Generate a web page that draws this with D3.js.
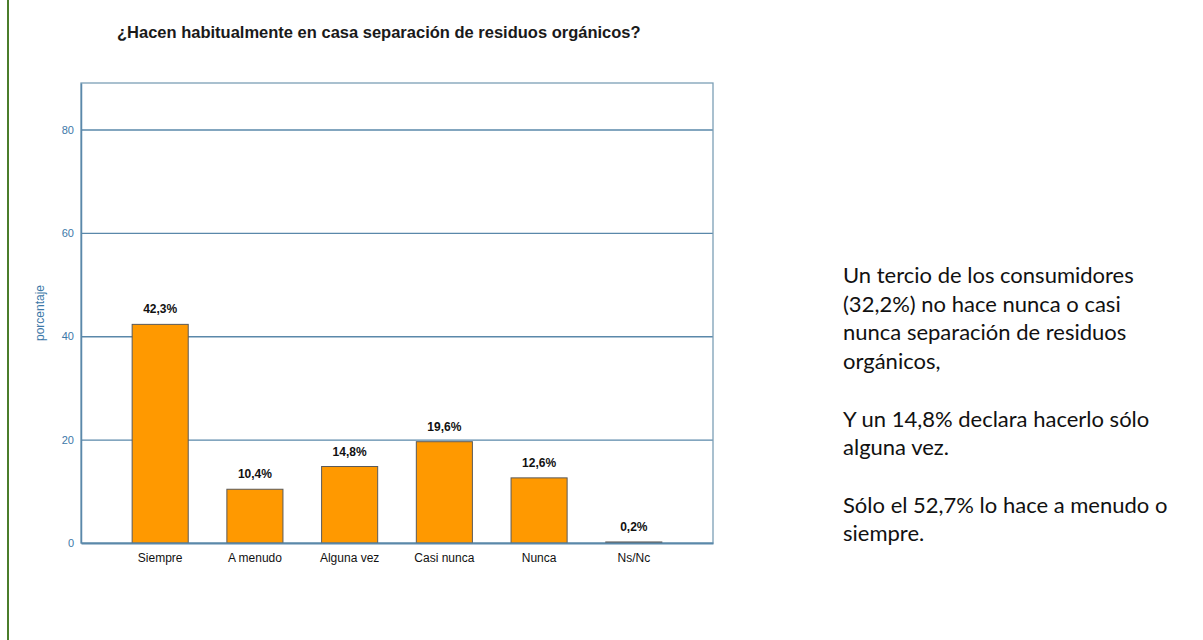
<!DOCTYPE html>
<html>
<head>
<meta charset="utf-8">
<script src="https://cdn.jsdelivr.net/npm/d3@7"></script>
<style>
  body { margin: 0; background: #fff; }
  svg { display: block; }
</style>
</head>
<body>
<svg id="chart" width="1203" height="640"></svg>
<script>
// datos del grafico
var categorias = ["Siempre", "A menudo", "Alguna vez", "Casi nunca", "Nunca", "Ns/Nc"];
var porcentajes = [42.3, 10.4, 14.8, 19.6, 12.6, 0.2];
var yTicks = [0, 20, 40, 60, 80];
var titulo = "¿Hacen habitualmente en casa separación de residuos orgánicos?";
var notas = [
  "Un tercio de los consumidores",
  "(32,2%) no hace nunca o casi",
  "nunca separación de residuos",
  "orgánicos,",
  "",
  "Y un 14,8% declara hacerlo sólo",
  "alguna vez.",
  "",
  "Sólo el 52,7% lo hace a menudo o",
  "siempre."
];

var data = categorias.map((c, i) => ({ cat: c, value: porcentajes[i] }));

var svg = d3.select("#chart"),
    margin = {top: 83, bottom: 97, left: 81, right: 490},
    W = +svg.attr("width"),
    H = +svg.attr("height");

var axisColor = "#5a88aa";

// barra verde de la izquierda
svg.append("rect")
  .attr("x", 7).attr("y", 0)
  .attr("width", 2).attr("height", H)
  .attr("fill", "#4b7d2b");

var x = d3.scaleBand()
  .domain(categorias)
  .range([margin.left, W - margin.right])
  .paddingInner(0.408)
  .paddingOuter(0.54);

var y = d3.scaleLinear()
  .domain([0, 89])
  .range([H - margin.bottom, margin.top]);

// titulo
svg.append("text")
  .attr("x", 117).attr("y", 38)
  .style("font-family", "Liberation Sans, Arial, sans-serif")
  .style("font-size", "16.5px")
  .style("font-weight", "bold")
  .attr("fill", "#1a1a1a")
  .text(titulo);

// lineas de cuadricula
svg.append("g")
  .attr("transform", "translate(" + margin.left + ",0)")
  .call(d3.axisLeft(y).tickValues(yTicks.slice(1)).tickSize(-(W - margin.right - margin.left)).tickFormat(""))
  .call(g => g.select(".domain").remove())
  .selectAll("line")
    .attr("stroke", axisColor)
    .attr("stroke-width", 1.3);

// marco
svg.append("rect")
  .attr("x", margin.left).attr("y", margin.top)
  .attr("width", W - margin.right - margin.left)
  .attr("height", H - margin.bottom - margin.top)
  .attr("fill", "none")
  .attr("stroke", "#7c9fb6")
  .attr("stroke-width", 1.3);

// eje y
svg.append("g")
  .attr("transform", "translate(" + margin.left + ",0)")
  .call(d3.axisLeft(y).tickValues(yTicks).tickSize(0).tickPadding(7))
  .call(g => g.select(".domain").attr("stroke", axisColor).attr("stroke-width", 1.5))
  .selectAll("text")
    .style("font-family", "Liberation Sans, Arial, sans-serif")
    .style("font-size", "11px")
    .attr("fill", "#3d78a8");

svg.append("text")
  .attr("transform", "translate(44," + y(44.5) + ") rotate(-90)")
  .attr("text-anchor", "middle")
  .style("font-family", "Liberation Sans, Arial, sans-serif")
  .style("font-size", "12px")
  .attr("fill", "#3d78a8")
  .text("porcentaje");

// barras
svg.selectAll(".bar")
  .data(data)
  .enter().append("rect")
    .attr("class", "bar")
    .attr("x", d => x(d.cat))
    .attr("y", d => y(d.value))
    .attr("width", x.bandwidth())
    .attr("height", d => y(0) - y(d.value))
    .attr("fill", "#ff9900")
    .attr("stroke", "#5a5a5a")
    .attr("stroke-width", 1);

// etiquetas de valor
svg.selectAll(".val")
  .data(data)
  .enter().append("text")
    .attr("class", "val")
    .attr("x", d => x(d.cat) + x.bandwidth() / 2)
    .attr("y", d => y(d.value) - 11)
    .attr("text-anchor", "middle")
    .style("font-family", "Liberation Sans Narrow, Liberation Sans, Arial, sans-serif")
    .style("font-size", "12px")
    .style("font-weight", "bold")
    .attr("fill", "#111")
    .text(d => d3.format(".1f")(d.value).replace(".", ",") + "%");

// eje x
svg.append("g")
  .attr("transform", "translate(0," + y(0) + ")")
  .call(d3.axisBottom(x).tickSize(0).tickPadding(10))
  .call(g => g.select(".domain").attr("stroke", axisColor).attr("stroke-width", 2))
  .selectAll("text")
    .style("font-family", "Liberation Sans Narrow, Liberation Sans, Arial, sans-serif")
    .style("font-size", "12px")
    .attr("fill", "#111");

// texto de la derecha
svg.append("g")
  .selectAll("text")
  .data(notas)
  .enter().append("text")
    .attr("x", 843)
    .attr("y", (d, i) => 283 + i * 28.7)
    .style("font-family", "Lato, sans-serif")
    .style("font-size", "22px")
    .attr("fill", "#111")
    .text(d => d);
</script>
</body>
</html>
